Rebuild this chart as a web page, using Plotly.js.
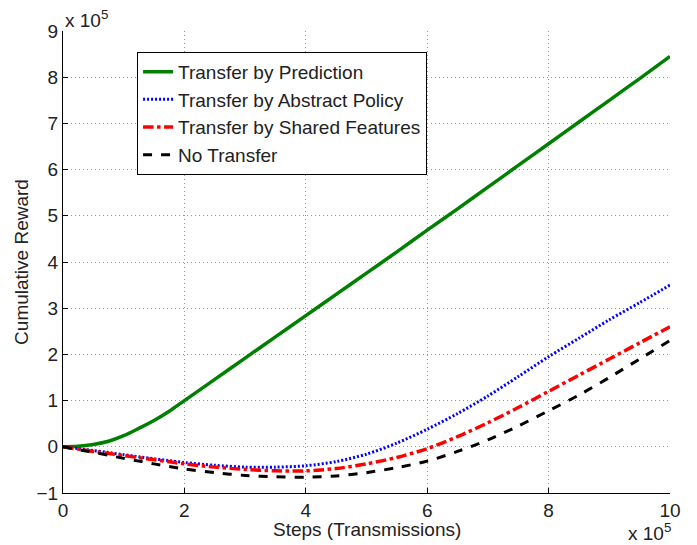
<!DOCTYPE html>
<html>
<head>
<meta charset="utf-8">
<script src="https://cdn.plot.ly/plotly-3.0.1.min.js"></script>
<style>html,body{margin:0;padding:0;background:#fff;}#chart{width:697px;height:545px;}</style>
</head>
<body>
<div id="chart"></div>
<script>
// Steps in units of 1e5, rewards in units of 1e5
const steps = [0,0.25,0.5,0.75,1,1.25,1.5,1.75,2,2.5,3,3.5,4,4.5,5,5.5,6,6.5,7,7.5,8,8.5,9,9.5,10];
const prediction = [0,0.01,0.05,0.12,0.24,0.4,0.57,0.77,1.0,1.46,1.92,2.38,2.84,3.3,3.76,4.22,4.69,5.15,5.62,6.09,6.56,7.03,7.5,7.97,8.45];
const abstractPolicy = [0,-0.04,-0.08,-0.125,-0.17,-0.215,-0.26,-0.3,-0.34,-0.4,-0.44,-0.44,-0.41,-0.32,-0.16,0.08,0.38,0.72,1.1,1.52,1.95,2.35,2.75,3.12,3.5];
const sharedFeatures = [0,-0.05,-0.1,-0.145,-0.19,-0.235,-0.28,-0.325,-0.37,-0.44,-0.49,-0.52,-0.52,-0.47,-0.37,-0.23,-0.04,0.22,0.52,0.85,1.2,1.55,1.9,2.25,2.6];
const noTransfer = [0,-0.06,-0.12,-0.185,-0.25,-0.31,-0.37,-0.425,-0.48,-0.56,-0.62,-0.65,-0.66,-0.63,-0.56,-0.45,-0.31,-0.1,0.15,0.45,0.78,1.12,1.5,1.9,2.3];
const seriesNames = ['Transfer by Prediction','Transfer by Abstract Policy','Transfer by Shared Features','No Transfer'];
const xTicks = [0,2,4,6,8,10];
const yTicks = [-1,0,1,2,3,4,5,6,7,8,9];

const font = 'Liberation Sans, Arial, Helvetica, sans-serif';
const txt = '#222';
const traces = [
  {x: steps, y: prediction, name: seriesNames[0], mode:'lines', line:{color:'#008000', width:3.5, shape:'spline', smoothing:0.8}},
  {x: steps, y: abstractPolicy, name: seriesNames[1], mode:'lines', line:{color:'#0000ff', width:3, dash:'2px,2px', shape:'spline', smoothing:0.8}},
  {x: steps, y: sharedFeatures, name: seriesNames[2], mode:'lines', line:{color:'#ff0000', width:3.5, dash:'dashdot', shape:'spline', smoothing:0.8}},
  {x: steps, y: noTransfer, name: seriesNames[3], mode:'lines', line:{color:'#000000', width:3, dash:'dash', shape:'spline', smoothing:0.8}}
];
const axisCommon = {
  showline:true, linecolor:'#000', linewidth:1, mirror:false,
  ticks:'inside', ticklen:5, tickcolor:'#000',
  showgrid:true, gridcolor:'rgb(150,150,150)', griddash:'1px,3px', gridwidth:1,
  zeroline:false, tickfont:{family:font, size:19, color:txt}
};
const layout = {
  width:697, height:545,
  margin:{l:63, r:27, t:31, b:52},
  paper_bgcolor:'#fff', plot_bgcolor:'#fff',
  showlegend:true,
  legend:{x:0.122, y:0.955, xanchor:'left', yanchor:'top', bgcolor:'#fff', bordercolor:'#000', borderwidth:1,
    font:{family:font, size:19, color:txt}, tracegroupgap:0},
  xaxis: Object.assign({}, axisCommon, {range:[0,10], tickvals:xTicks, ticktext:xTicks.map(String)}),
  yaxis: Object.assign({}, axisCommon, {range:[-1,9], tickvals:yTicks, ticktext:yTicks.map(v => v<0 ? '\u2212'+Math.abs(v) : String(v)),
    title:{text:'Cumulative Reward', font:{family:font, size:19, color:txt}, standoff:2}}),
  annotations:[
    {xref:'paper', yref:'paper', x:0.5, y:-0.078, xanchor:'center', yanchor:'middle', showarrow:false,
     text:'Steps (Transmissions)', font:{family:font, size:19, color:txt}},
    {xref:'paper', yref:'paper', x:0, y:1, xanchor:'left', yanchor:'bottom', showarrow:false, yshift:-2,
     text:'x 10<sup>5</sup>', font:{family:font, size:19, color:txt}},
    {xref:'paper', yref:'paper', x:0.928, y:-0.054, xanchor:'left', yanchor:'top', showarrow:false,
     text:'x 10<sup>5</sup>', font:{family:font, size:19, color:txt}}
  ]
};
Plotly.newPlot('chart', traces, layout, {displayModeBar:false, staticPlot:true});
</script>
</body>
</html>
